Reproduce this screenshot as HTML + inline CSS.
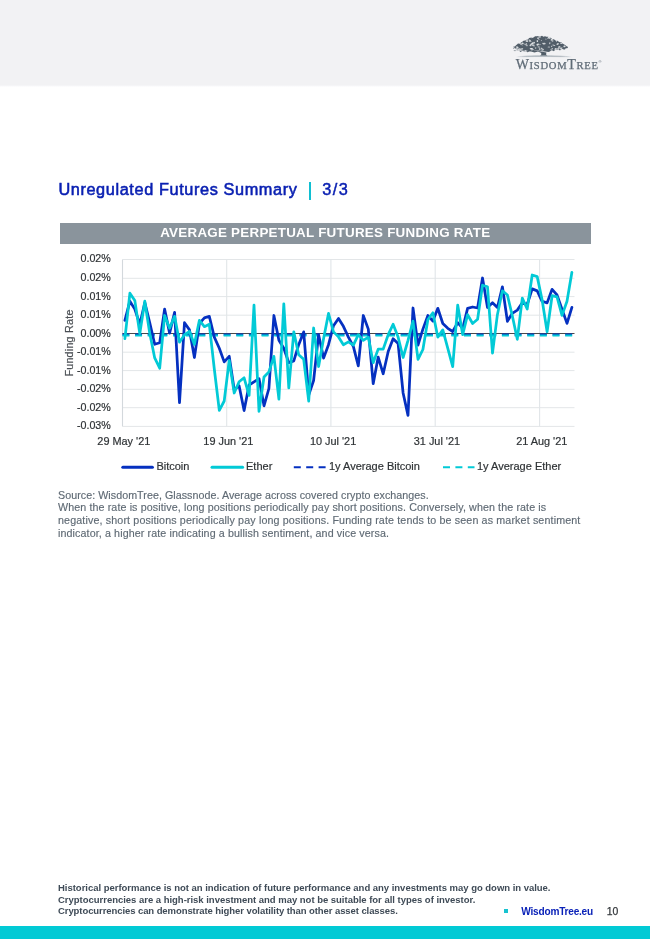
<!DOCTYPE html>
<html><head><meta charset="utf-8"><title>Unregulated Futures Summary</title>
<style>
html,body{margin:0;padding:0;}
body{width:650px;height:939px;position:relative;overflow:hidden;background:#fff;font-family:"Liberation Sans",sans-serif;}
.page{position:absolute;left:0;top:0;width:650px;height:939px;will-change:transform;}
.band{position:absolute;left:0;top:0;width:650px;height:85px;background:#f2f2f4;}
.band2{position:absolute;left:0;top:85px;width:650px;height:2px;background:linear-gradient(#f2f2f4,#ffffff);}
.logo{position:absolute;left:505px;top:28px;}
.wt{font-family:"Liberation Serif",serif;font-size:10.6px;fill:#5f6b76;stroke:#5f6b76;stroke-width:0.25px;letter-spacing:0.7px;}
.wt .big{font-size:14px;}
.reg{font-family:"Liberation Sans",sans-serif;font-size:4px;fill:#5f6b76;}
h1{position:absolute;left:58.4px;top:179.3px;margin:0;font-size:16.3px;line-height:20px;font-weight:normal;color:#0a20b2;white-space:nowrap;letter-spacing:0.61px;-webkit-text-stroke:0.55px #0a20b2;}
h1 .bar{display:inline-block;width:2px;height:17.5px;background:#10bfd2;margin:0 11.6px 0 11.2px;vertical-align:-4.6px;}
h1 .pg{font-weight:normal;letter-spacing:1.5px;-webkit-text-stroke:0.45px #0a20b2;}
.tbar{position:absolute;left:59.5px;top:223px;width:531.5px;height:20.5px;background:#8a949c;color:#fff;font-weight:bold;font-size:13.4px;line-height:20.5px;text-align:center;letter-spacing:0.25px;white-space:nowrap;}
.chart{position:absolute;left:0;top:220px;}
.chart text{font-family:"Liberation Sans",sans-serif;stroke-width:0.2px;}
.yl{font-size:10.7px;fill:#2f3336;stroke:#2f3336;}
.xl{font-size:10.9px;fill:#2f3336;stroke:#2f3336;}
.al{font-size:10.8px;fill:#4a4f54;stroke:#4a4f54;letter-spacing:0.2px;}
.lg{font-size:11px;fill:#2f3336;stroke:#2f3336;}
.src{position:absolute;left:58px;top:488.5px;width:560px;margin:0;font-size:10.7px;line-height:12.95px;color:#5f6a74;white-space:nowrap;letter-spacing:0.11px;-webkit-text-stroke:0.15px #5f6a74;}
.foot{position:absolute;left:58px;top:882px;margin:0;font-size:9.5px;line-height:11.7px;font-weight:bold;color:#3f4b57;white-space:nowrap;letter-spacing:-0.02px;}
.foot .l3{letter-spacing:-0.08px;}
.sq{position:absolute;left:503.5px;top:909px;width:4px;height:4px;background:#17c3d0;}
.site{position:absolute;left:521.3px;top:906.1px;font-size:10.1px;line-height:12px;font-weight:bold;color:#0a22b8;white-space:nowrap;letter-spacing:-0.22px;}
.pn{position:absolute;left:606.8px;top:905.9px;font-size:10.4px;line-height:12px;color:#33373b;-webkit-text-stroke:0.25px #33373b;}
.cy{position:absolute;left:0;top:926px;width:650px;height:13px;background:#02cad5;}
</style></head><body><div class="page">
<div class="band"></div><div class="band2"></div>
<svg class="logo" width="110" height="50" viewBox="505 28 110 50">
<defs><linearGradient id="gr" x1="0" x2="1" y1="0" y2="0"><stop offset="0" stop-color="#b9c0c6" stop-opacity="0"/><stop offset="0.2" stop-color="#aeb6bd"/><stop offset="0.8" stop-color="#aeb6bd"/><stop offset="1" stop-color="#b9c0c6" stop-opacity="0"/></linearGradient></defs>
<path d="M512.8 48.5 L513.5 47.7 L513.5 46.6 L515.0 46.4 L516.0 45.2 L517.0 44.4 L518.0 43.6 L519.7 43.8 L521.0 42.6 L522.3 41.8 L523.5 40.8 L525.1 40.6 L526.5 39.8 L528.2 39.5 L529.0 38.0 L530.5 37.7 L532.0 37.2 L533.7 37.4 L535.0 36.2 L536.8 36.3 L538.5 36.0 L540.3 36.6 L542.0 35.8 L543.4 36.7 L545.0 36.2 L546.4 36.8 L548.0 36.8 L549.6 37.2 L551.0 38.0 L552.3 39.2 L554.0 39.2 L555.3 40.4 L557.0 40.6 L558.5 41.4 L560.0 42.2 L561.7 42.6 L563.0 43.8 L564.2 44.6 L565.5 45.2 L566.5 46.2 L567.8 46.8 L567.9 47.7 L567.2 48.2 L565.7 48.2 L565.0 49.4 L563.7 49.5 L562.5 49.0 L561.0 49.3 L560.0 50.4 L558.6 49.5 L557.0 49.9 L555.2 50.0 L554.0 51.2 L552.6 50.5 L551.0 50.6 L549.9 51.5 L548.5 51.9 L530.7 49.6 L546.4 52.6 L546.1 54.6 L547.4 56.0 L540.0 56.0 L541.3 54.6 L541.2 52.9 L538.0 51.6 L536.2 52.0 L534.5 52.4 L532.7 51.9 L531.0 51.4 L529.2 51.6 L527.5 52.2 L525.8 51.6 L524.0 51.2 L522.1 51.0 L520.5 51.9 L519.2 50.8 L517.5 50.8 L516.2 50.6 L515.0 51.2 L514.2 50.7 L513.4 50.2 L525.7 51.1Z" fill="#515d68"/>
<g fill="#eceef0"><ellipse cx="530.3" cy="45.5" rx="1.04" ry="0.58" transform="rotate(24 530.3 45.5)" opacity="0.80"/><ellipse cx="526.7" cy="45.3" rx="1.13" ry="0.93" transform="rotate(18 526.7 45.3)" opacity="0.59"/><ellipse cx="535.7" cy="48.0" rx="0.68" ry="0.69" transform="rotate(-37 535.7 48.0)" opacity="0.78"/><ellipse cx="553.8" cy="45.3" rx="1.55" ry="0.59" transform="rotate(16 553.8 45.3)" opacity="0.75"/><ellipse cx="544.2" cy="43.6" rx="1.51" ry="0.97" transform="rotate(-2 544.2 43.6)" opacity="0.78"/><ellipse cx="517.2" cy="47.2" rx="1.28" ry="1.00" transform="rotate(26 517.2 47.2)" opacity="0.59"/><ellipse cx="534.1" cy="46.7" rx="0.53" ry="0.68" transform="rotate(-27 534.1 46.7)" opacity="0.51"/><ellipse cx="517.1" cy="48.1" rx="0.66" ry="0.55" transform="rotate(-9 517.1 48.1)" opacity="0.89"/><ellipse cx="542.6" cy="49.8" rx="1.48" ry="0.92" transform="rotate(-18 542.6 49.8)" opacity="0.66"/><ellipse cx="532.7" cy="49.8" rx="1.65" ry="0.49" transform="rotate(-26 532.7 49.8)" opacity="0.57"/><ellipse cx="526.1" cy="44.0" rx="1.21" ry="0.56" transform="rotate(-40 526.1 44.0)" opacity="0.66"/><ellipse cx="533.2" cy="45.2" rx="1.64" ry="0.81" transform="rotate(1 533.2 45.2)" opacity="0.76"/><ellipse cx="549.2" cy="37.8" rx="1.58" ry="0.87" transform="rotate(30 549.2 37.8)" opacity="0.85"/><ellipse cx="534.4" cy="42.8" rx="0.62" ry="0.78" transform="rotate(-35 534.4 42.8)" opacity="0.48"/><ellipse cx="531.7" cy="37.8" rx="0.50" ry="0.49" transform="rotate(-32 531.7 37.8)" opacity="0.63"/><ellipse cx="545.9" cy="39.2" rx="0.80" ry="0.61" transform="rotate(-11 545.9 39.2)" opacity="0.51"/><ellipse cx="538.2" cy="44.0" rx="0.60" ry="0.46" transform="rotate(-13 538.2 44.0)" opacity="0.58"/><ellipse cx="515.2" cy="50.8" rx="1.13" ry="0.49" transform="rotate(3 515.2 50.8)" opacity="0.46"/><ellipse cx="558.9" cy="47.1" rx="0.81" ry="0.62" transform="rotate(-27 558.9 47.1)" opacity="0.84"/><ellipse cx="541.7" cy="48.3" rx="0.90" ry="0.53" transform="rotate(25 541.7 48.3)" opacity="0.94"/><ellipse cx="558.3" cy="48.7" rx="1.48" ry="0.84" transform="rotate(-22 558.3 48.7)" opacity="0.71"/><ellipse cx="532.5" cy="37.4" rx="0.53" ry="0.57" transform="rotate(-19 532.5 37.4)" opacity="0.80"/><ellipse cx="557.7" cy="44.0" rx="1.28" ry="0.88" transform="rotate(-33 557.7 44.0)" opacity="0.78"/><ellipse cx="561.3" cy="48.3" rx="1.40" ry="0.69" transform="rotate(-26 561.3 48.3)" opacity="0.84"/><ellipse cx="531.3" cy="48.6" rx="1.67" ry="0.64" transform="rotate(-8 531.3 48.6)" opacity="0.92"/><ellipse cx="551.7" cy="39.5" rx="0.65" ry="0.49" transform="rotate(32 551.7 39.5)" opacity="0.85"/><ellipse cx="521.6" cy="49.0" rx="1.68" ry="0.79" transform="rotate(-12 521.6 49.0)" opacity="0.72"/><ellipse cx="564.5" cy="46.4" rx="1.13" ry="0.96" transform="rotate(-5 564.5 46.4)" opacity="0.89"/><ellipse cx="527.1" cy="41.2" rx="0.79" ry="0.75" transform="rotate(-19 527.1 41.2)" opacity="0.66"/><ellipse cx="532.4" cy="43.6" rx="1.20" ry="0.94" transform="rotate(-6 532.4 43.6)" opacity="0.91"/><ellipse cx="540.1" cy="44.7" rx="1.13" ry="0.41" transform="rotate(-5 540.1 44.7)" opacity="0.54"/><ellipse cx="514.2" cy="48.6" rx="0.71" ry="0.68" transform="rotate(18 514.2 48.6)" opacity="0.73"/><ellipse cx="531.0" cy="44.5" rx="1.17" ry="0.87" transform="rotate(-32 531.0 44.5)" opacity="0.73"/><ellipse cx="526.9" cy="41.0" rx="1.43" ry="0.70" transform="rotate(5 526.9 41.0)" opacity="0.83"/><ellipse cx="561.4" cy="43.4" rx="1.24" ry="0.70" transform="rotate(1 561.4 43.4)" opacity="0.80"/><ellipse cx="537.5" cy="44.7" rx="1.07" ry="0.96" transform="rotate(16 537.5 44.7)" opacity="0.89"/><ellipse cx="520.3" cy="43.4" rx="0.59" ry="0.54" transform="rotate(-34 520.3 43.4)" opacity="0.78"/><ellipse cx="554.8" cy="50.0" rx="0.69" ry="0.83" transform="rotate(13 554.8 50.0)" opacity="0.52"/><ellipse cx="525.4" cy="50.8" rx="0.98" ry="0.69" transform="rotate(39 525.4 50.8)" opacity="0.87"/><ellipse cx="522.4" cy="43.3" rx="1.12" ry="0.60" transform="rotate(-24 522.4 43.3)" opacity="0.61"/><ellipse cx="542.8" cy="43.4" rx="0.52" ry="0.60" transform="rotate(10 542.8 43.4)" opacity="0.71"/><ellipse cx="516.1" cy="48.3" rx="0.82" ry="0.48" transform="rotate(-6 516.1 48.3)" opacity="0.91"/><ellipse cx="556.6" cy="40.7" rx="0.68" ry="0.95" transform="rotate(6 556.6 40.7)" opacity="0.80"/><ellipse cx="549.8" cy="43.2" rx="0.59" ry="0.96" transform="rotate(11 549.8 43.2)" opacity="0.85"/><ellipse cx="518.4" cy="49.4" rx="0.58" ry="0.92" transform="rotate(-4 518.4 49.4)" opacity="0.62"/><ellipse cx="541.4" cy="40.5" rx="0.63" ry="0.50" transform="rotate(-36 541.4 40.5)" opacity="0.55"/><ellipse cx="530.2" cy="41.4" rx="1.41" ry="0.57" transform="rotate(0 530.2 41.4)" opacity="0.54"/><ellipse cx="532.0" cy="37.3" rx="0.80" ry="0.41" transform="rotate(19 532.0 37.3)" opacity="0.73"/><ellipse cx="523.9" cy="43.9" rx="1.62" ry="0.46" transform="rotate(26 523.9 43.9)" opacity="0.67"/><ellipse cx="539.7" cy="49.1" rx="0.97" ry="0.70" transform="rotate(15 539.7 49.1)" opacity="0.94"/><ellipse cx="531.8" cy="49.1" rx="1.35" ry="0.78" transform="rotate(-8 531.8 49.1)" opacity="0.62"/><ellipse cx="517.7" cy="47.7" rx="0.81" ry="0.50" transform="rotate(-33 517.7 47.7)" opacity="0.87"/><ellipse cx="559.3" cy="46.7" rx="0.84" ry="0.55" transform="rotate(-17 559.3 46.7)" opacity="0.68"/><ellipse cx="522.2" cy="43.5" rx="0.82" ry="0.98" transform="rotate(38 522.2 43.5)" opacity="0.72"/><ellipse cx="526.7" cy="51.0" rx="0.87" ry="0.61" transform="rotate(-40 526.7 51.0)" opacity="0.64"/><ellipse cx="538.7" cy="44.3" rx="0.74" ry="0.70" transform="rotate(-40 538.7 44.3)" opacity="0.58"/><ellipse cx="529.8" cy="40.4" rx="1.20" ry="0.72" transform="rotate(20 529.8 40.4)" opacity="0.78"/><ellipse cx="551.2" cy="49.7" rx="0.97" ry="0.60" transform="rotate(39 551.2 49.7)" opacity="0.52"/><ellipse cx="551.7" cy="46.3" rx="0.55" ry="0.90" transform="rotate(31 551.7 46.3)" opacity="0.76"/><ellipse cx="552.2" cy="48.8" rx="0.67" ry="0.71" transform="rotate(0 552.2 48.8)" opacity="0.87"/><ellipse cx="555.8" cy="49.0" rx="1.20" ry="0.94" transform="rotate(15 555.8 49.0)" opacity="0.80"/><ellipse cx="519.5" cy="49.1" rx="1.17" ry="0.78" transform="rotate(10 519.5 49.1)" opacity="0.79"/><ellipse cx="539.4" cy="37.0" rx="1.46" ry="0.85" transform="rotate(0 539.4 37.0)" opacity="0.72"/><ellipse cx="548.3" cy="38.0" rx="1.38" ry="0.55" transform="rotate(-34 548.3 38.0)" opacity="0.58"/><ellipse cx="551.9" cy="40.0" rx="1.39" ry="0.99" transform="rotate(-0 551.9 40.0)" opacity="0.64"/><ellipse cx="538.9" cy="46.9" rx="1.42" ry="0.77" transform="rotate(11 538.9 46.9)" opacity="0.49"/><ellipse cx="552.6" cy="41.4" rx="1.18" ry="0.41" transform="rotate(-35 552.6 41.4)" opacity="0.58"/><ellipse cx="548.9" cy="47.0" rx="1.31" ry="0.57" transform="rotate(1 548.9 47.0)" opacity="0.68"/><ellipse cx="538.2" cy="38.7" rx="1.57" ry="0.52" transform="rotate(38 538.2 38.7)" opacity="0.92"/><ellipse cx="537.4" cy="40.9" rx="0.75" ry="0.97" transform="rotate(-23 537.4 40.9)" opacity="0.74"/><ellipse cx="521.4" cy="44.6" rx="1.64" ry="0.48" transform="rotate(26 521.4 44.6)" opacity="0.70"/><ellipse cx="560.1" cy="47.2" rx="0.78" ry="0.94" transform="rotate(-1 560.1 47.2)" opacity="0.46"/><ellipse cx="537.4" cy="41.4" rx="0.67" ry="0.61" transform="rotate(-15 537.4 41.4)" opacity="0.87"/><ellipse cx="514.1" cy="47.9" rx="1.51" ry="0.47" transform="rotate(34 514.1 47.9)" opacity="0.81"/><ellipse cx="533.4" cy="42.7" rx="1.70" ry="0.75" transform="rotate(-11 533.4 42.7)" opacity="0.66"/></g>
<path d="M516 56.9c12-1.500 40-1.500 56 0c-16-.5-44-.5-56 0z" fill="url(#gr)" stroke="url(#gr)" stroke-width="0.7"/>
<text x="515.7" y="68.6" class="wt"><tspan class="big">W</tspan>ISDOM<tspan class="big">T</tspan>REE</text>
<text x="598.4" y="63.4" class="reg">&#174;</text>
</svg>
<h1>Unregulated Futures Summary<span class="bar"></span><span class="pg">3/3</span></h1>
<div class="tbar">AVERAGE PERPETUAL FUTURES FUNDING RATE</div>
<svg class="chart" width="650" height="260" viewBox="0 220 650 260">
<line x1="122.5" x2="574.5" y1="259.5" y2="259.5" stroke="#e3e6e8" stroke-width="1"/>
<line x1="122.5" x2="574.5" y1="278.3" y2="278.3" stroke="#e3e6e8" stroke-width="1"/>
<line x1="122.5" x2="574.5" y1="296.6" y2="296.6" stroke="#e3e6e8" stroke-width="1"/>
<line x1="122.5" x2="574.5" y1="315.2" y2="315.2" stroke="#e3e6e8" stroke-width="1"/>
<line x1="122.5" x2="574.5" y1="352.2" y2="352.2" stroke="#e3e6e8" stroke-width="1"/>
<line x1="122.5" x2="574.5" y1="370.6" y2="370.6" stroke="#e3e6e8" stroke-width="1"/>
<line x1="122.5" x2="574.5" y1="389.3" y2="389.3" stroke="#e3e6e8" stroke-width="1"/>
<line x1="122.5" x2="574.5" y1="407.7" y2="407.7" stroke="#e3e6e8" stroke-width="1"/>
<line x1="122.5" x2="574.5" y1="426.4" y2="426.4" stroke="#e3e6e8" stroke-width="1"/>
<line x1="122.5" x2="122.5" y1="259.5" y2="426.4" stroke="#d3d8dc" stroke-width="1.1"/>
<line x1="226.7" x2="226.7" y1="259.5" y2="426.4" stroke="#e1e5e8" stroke-width="1.1"/>
<line x1="330.9" x2="330.9" y1="259.5" y2="426.4" stroke="#e1e5e8" stroke-width="1.1"/>
<line x1="435.2" x2="435.2" y1="259.5" y2="426.4" stroke="#e1e5e8" stroke-width="1.1"/>
<line x1="539.6" x2="539.6" y1="259.5" y2="426.4" stroke="#e1e5e8" stroke-width="1.1"/>
<line x1="122.5" x2="574.5" y1="333.5" y2="333.5" stroke="#4a4a4a" stroke-width="1"/>
<line x1="122.4" x2="574.5" y1="334.4" y2="334.4" stroke="#0530c0" stroke-width="2" stroke-dasharray="7 5.65"/>
<line x1="122.4" x2="574.5" y1="335.5" y2="335.5" stroke="#02cad6" stroke-width="2" stroke-dasharray="7 5.65"/>
<polyline fill="none" stroke="#0530c0" stroke-width="2.75" stroke-linejoin="round" stroke-linecap="round" points="124.9,320.3 129.9,301.2 134.8,309.1 139.8,324.3 144.8,302.7 149.7,322.7 154.7,344.3 159.7,342.7 164.6,309.1 169.6,333.1 174.6,312.3 179.5,402.6 184.5,322.7 189.5,329.9 194.4,357.5 199.4,323.5 204.4,317.9 209.3,316.3 214.3,337.1 219.3,348.3 224.2,361.9 229.2,356.3 234.2,389.8 239.1,385.8 244.1,410.6 249.1,385.0 254.0,381.8 259.0,378.6 264.0,405.8 268.9,388.5 273.9,315.5 278.9,340.3 283.8,348.3 288.8,362.7 293.8,360.9 298.7,344.7 303.7,331.9 308.7,395.0 313.6,380.5 318.6,334.7 323.6,358.1 328.5,344.7 333.5,325.7 338.5,318.5 343.4,326.3 348.4,337.1 353.4,346.7 358.3,365.8 363.3,315.5 368.3,329.1 373.2,383.7 378.2,357.1 383.2,373.8 388.2,351.5 393.1,338.7 398.1,343.5 403.1,393.0 408.0,415.4 413.0,308.0 418.0,345.1 422.9,329.1 427.9,315.5 432.9,321.1 437.8,308.3 442.8,323.5 447.8,328.3 452.7,331.5 457.7,322.7 462.7,328.3 467.6,308.3 472.6,307.0 477.6,308.0 482.5,278.0 487.5,307.5 492.5,302.7 497.4,307.5 502.4,286.8 507.4,321.3 512.3,313.3 517.3,310.1 522.3,302.9 527.2,304.5 532.2,288.9 537.2,290.9 542.1,301.3 547.1,302.9 552.1,289.3 557.0,294.9 562.0,309.3 567.0,323.4 571.9,307.4"/>
<polyline fill="none" stroke="#02cad6" stroke-width="2.75" stroke-linejoin="round" stroke-linecap="round" points="124.9,338.7 129.9,293.2 134.8,300.4 139.8,333.6 144.8,301.2 149.7,333.1 154.7,357.9 159.7,368.2 164.6,315.5 169.6,328.3 174.6,316.3 179.5,342.2 184.5,334.7 189.5,331.5 194.4,344.4 199.4,320.3 204.4,326.7 209.3,324.3 214.3,369.0 219.3,410.3 224.2,401.0 229.2,360.3 234.2,393.0 239.1,381.8 244.1,377.8 249.1,395.4 254.0,305.1 259.0,411.4 264.0,377.0 268.9,371.9 273.9,356.3 278.9,399.1 283.8,303.9 288.8,387.9 293.8,331.9 298.7,354.8 303.7,359.3 308.7,401.2 313.6,328.0 318.6,366.5 323.6,338.6 328.5,313.4 333.5,331.9 338.5,336.9 343.4,344.7 348.4,341.9 353.4,345.1 358.3,334.7 363.3,340.3 368.3,337.1 373.2,362.7 378.2,349.1 383.2,349.1 388.2,334.7 393.1,324.3 398.1,337.1 403.1,357.5 408.0,340.3 413.0,321.1 418.0,359.4 422.9,349.5 427.9,319.5 432.9,312.8 437.8,337.1 442.8,329.9 447.8,348.3 452.7,366.6 457.7,305.1 462.7,334.7 467.6,314.7 472.6,323.5 477.6,319.2 482.5,285.2 487.5,286.8 492.5,353.1 497.4,314.7 502.4,290.8 507.4,295.0 512.3,315.7 517.3,339.3 522.3,298.1 527.2,309.0 532.2,275.0 537.2,276.6 542.1,299.7 547.1,331.7 552.1,295.7 557.0,296.9 562.0,315.4 567.0,301.3 571.9,272.3"/>
<text x="110.8" y="262.4" text-anchor="end" class="yl">0.02%</text>
<text x="110.8" y="281.2" text-anchor="end" class="yl">0.02%</text>
<text x="110.8" y="299.5" text-anchor="end" class="yl">0.01%</text>
<text x="110.8" y="318.1" text-anchor="end" class="yl">0.01%</text>
<text x="110.8" y="336.5" text-anchor="end" class="yl">0.00%</text>
<text x="110.8" y="355.1" text-anchor="end" class="yl">-0.01%</text>
<text x="110.8" y="373.5" text-anchor="end" class="yl">-0.01%</text>
<text x="110.8" y="392.2" text-anchor="end" class="yl">-0.02%</text>
<text x="110.8" y="410.6" text-anchor="end" class="yl">-0.02%</text>
<text x="110.8" y="429.3" text-anchor="end" class="yl">-0.03%</text>
<text x="123.8" y="445" text-anchor="middle" class="xl">29 May '21</text>
<text x="228.3" y="445" text-anchor="middle" class="xl">19 Jun '21</text>
<text x="333.1" y="445" text-anchor="middle" class="xl">10 Jul '21</text>
<text x="436.9" y="445" text-anchor="middle" class="xl">31 Jul '21</text>
<text x="541.7" y="445" text-anchor="middle" class="xl">21 Aug '21</text>
<text transform="translate(72.6,343) rotate(-90)" text-anchor="middle" class="al">Funding Rate</text>
<line x1="122.8" x2="152.4" y1="467.2" y2="467.2" stroke="#0530c0" stroke-width="3" stroke-linecap="round"/>
<text x="156.4" y="470.1" class="lg">Bitcoin</text>
<line x1="212" x2="242.6" y1="467.2" y2="467.2" stroke="#02cad6" stroke-width="3" stroke-linecap="round"/>
<text x="246" y="470.1" class="lg">Ether</text>
<line x1="293.8" x2="326" y1="467.2" y2="467.2" stroke="#0530c0" stroke-width="2" stroke-dasharray="7 5.4"/>
<text x="329" y="470.1" class="lg">1y Average Bitcoin</text>
<line x1="443" x2="474.5" y1="467.2" y2="467.2" stroke="#02cad6" stroke-width="2" stroke-dasharray="7 5.4"/>
<text x="477" y="470.1" class="lg">1y Average Ether</text>
</svg>
<p class="src"><span style="letter-spacing:0.05px">Source: WisdomTree, Glassnode. Average across covered crypto exchanges.</span><br>When the rate is positive, long positions periodically pay short positions. Conversely, when the rate is<br><span style="letter-spacing:0.14px">negative, short positions periodically pay long positions. Funding rate tends to be seen as market sentiment</span><br>indicator, a higher rate indicating a bullish sentiment, and vice versa.</p>
<p class="foot">Historical performance is not an indication of future performance and any investments may go down in value.<br>Cryptocurrencies are a high-risk investment and may not be suitable for all types of investor.<br><span class="l3">Cryptocurrencies can demonstrate higher volatility than other asset classes.</span></p>
<div class="sq"></div><div class="site">WisdomTree.eu</div><div class="pn">10</div>
<div class="cy"></div>
</div></body></html>
